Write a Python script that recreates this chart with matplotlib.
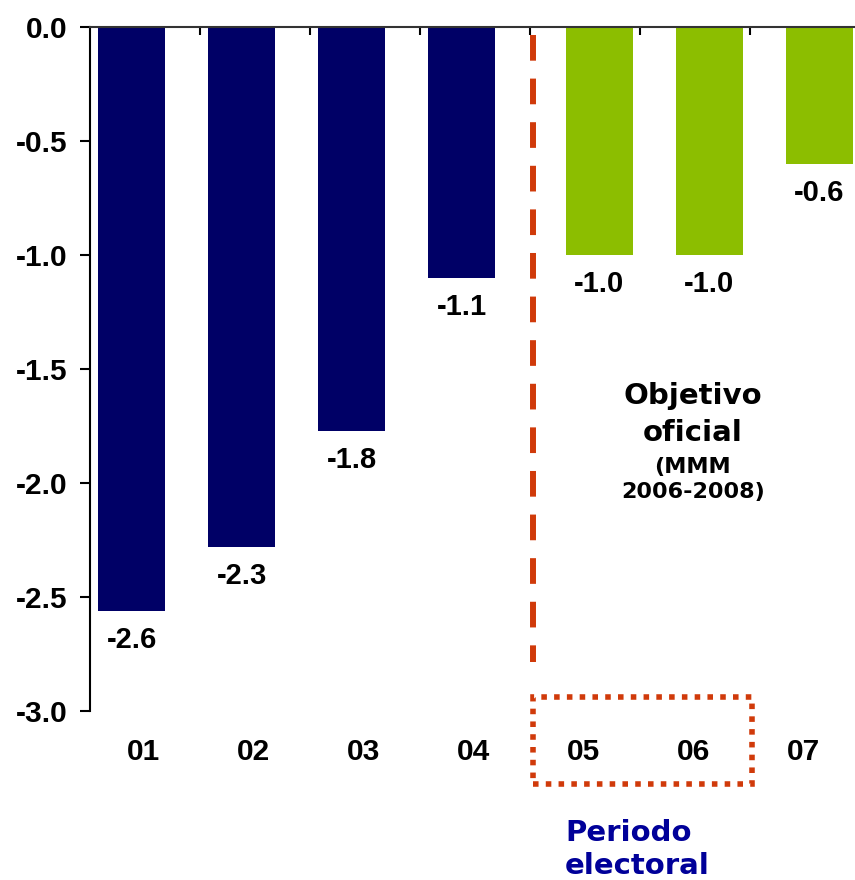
import numpy as np
import matplotlib
matplotlib.use("Agg")
import matplotlib.pyplot as plt
from matplotlib.patches import Rectangle

# datos
categorias = ["01", "02", "03", "04", "05", "06", "07"]
valores = [-2.56, -2.28, -1.77, -1.10, -1.0, -1.0, -0.6]
etiquetas = ["-2.6", "-2.3", "-1.8", "-1.1", "-1.0", "-1.0", "-0.6"]
es_objetivo = [False, False, False, False, True, True, True]
yticks = [0.0, -0.5, -1.0, -1.5, -2.0, -2.5, -3.0]

azul = "#000066"
verde = "#8CBE00"
rojo = "#D03A0A"

fig = plt.figure(figsize=(8.55, 8.8), dpi=100)
ax = fig.add_axes([90 / 855, 1 - 711 / 880, 765 / 855, 684 / 880])

x = np.arange(len(categorias))
# barras historicas un poco a la izquierda, objetivos desplazados a la derecha
xb = np.where(es_objetivo, x + 0.13, x - 0.12)
colores = [verde if o else azul for o in es_objetivo]
ax.bar(xb, valores, width=0.61, color=colores, zorder=2)

fuente = "Liberation Sans"
for xi, v, t in zip(xb, valores, etiquetas):
    ax.annotate(t, (xi, v), xytext=(0, -11), textcoords="offset points",
                ha="center", va="top", fontsize=21, fontweight="bold",
                family=fuente)

for xi, c in zip(x, categorias):
    ax.text(xi - 0.01, -3.18, c, ha="center", va="center", fontsize=21.5,
            fontweight="bold", family=fuente, clip_on=False)

ax.set_xlim(-0.5, 6.455)
ax.set_ylim(-3.0, 0.0)
ax.set_yticks(yticks)
ax.set_yticklabels([f"{t:.1f}" for t in yticks], fontsize=21.5,
                   fontweight="bold", family=fuente)
ax.tick_params(axis="y", direction="out", length=7, width=1.5, pad=9)

ax.xaxis.set_ticks_position("top")
ax.set_xticks(np.arange(0.5, 6, 1.0))
ax.set_xticklabels([])
ax.tick_params(axis="x", direction="in", length=6, width=1.5)

for s in ["bottom", "right"]:
    ax.spines[s].set_visible(False)
ax.spines["top"].set_color("#333333")
ax.spines["top"].set_linewidth(1.5)
ax.spines["left"].set_linewidth(1.5)

# linea de separacion
ax.plot([3.53, 3.53], [-0.035, -2.785], color=rojo, lw=4.3,
        dashes=(4.3, 3.0), solid_capstyle="butt", zorder=3)

# recuadro periodo electoral
rect = Rectangle((3.53, -3.32), 1.99, 0.38, fill=False, edgecolor=rojo,
                 lw=4.0, linestyle=(0, (1, 1.3)), clip_on=False)
ax.add_patch(rect)

ax.text(4.98, -1.62, "Objetivo", ha="center", va="center", fontsize=21,
        fontweight="bold", family="DejaVu Sans")
ax.text(4.98, -1.78, "oficial", ha="center", va="center", fontsize=21,
        fontweight="bold", family="DejaVu Sans")
ax.text(4.98, -1.93, "(MMM", ha="center", va="center", fontsize=16,
        fontweight="bold", family="DejaVu Sans")
ax.text(4.98, -2.04, "2006-2008)", ha="center", va="center", fontsize=16,
        fontweight="bold", family="DejaVu Sans")

ax.text(565 / 855, 1 - 833 / 880, "Periodo", transform=fig.transFigure,
        ha="left", va="center", fontsize=21, fontweight="bold",
        color="#000099", family="DejaVu Sans")
ax.text(565 / 855, 1 - 866 / 880, "electoral", transform=fig.transFigure,
        ha="left", va="center", fontsize=21, fontweight="bold",
        color="#000099", family="DejaVu Sans")

fig.savefig("out.png", dpi=100)
